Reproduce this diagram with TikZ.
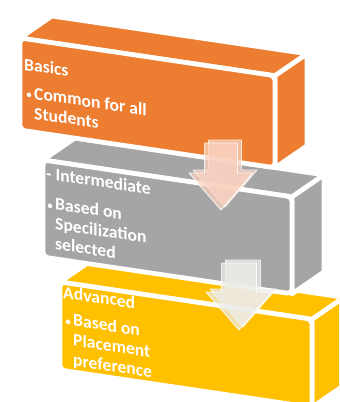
\documentclass[tikz,border=0pt]{standalone}
\usepackage{fontspec}
\setmainfont{Carlito}
\usetikzlibrary{calc}
\definecolor{blkorange}{RGB}{237,125,49}
\definecolor{blkgray}{RGB}{165,165,165}
\definecolor{blkyellow}{RGB}{255,192,0}
\definecolor{arrpeach}{RGB}{250,210,192}
\definecolor{arrpale}{RGB}{236,236,232}

\begin{document}
\begin{tikzpicture}[
    x=0.03cm, y=-0.03cm,
    face/.style={draw=white, line width=4pt, line join=round},
    front/.style={face, rounded corners=4pt},
    label/.style={anchor=base west, inner sep=0pt, text=white, transform shape,
        font=\fontsize{15}{17}\selectfont\bfseries},
    dot/.style={label, anchor=base east, font=\fontsize{11}{13}\selectfont},
    blockarrow/.style={draw=white, draw opacity=0.8, line width=0.8pt, fill opacity=0.75, line join=round}
]
\useasboundingbox (0,0) rectangle (339,402);
\clip (0,0) rectangle (339,402);

% Blocks, back to front
\foreach \col/\x/\y/\w/\h in {blkyellow/60/282/252/88, blkgray/43/160/249/97, blkorange/20/38/255/92}{
  \begin{scope}[shift={(\x,\y)}, yslant=-0.148]
    \path[face, fill=\col] (0,0) -- (\w,0) -- (\w+32,-26.7) -- (32,-26.7) -- cycle;
    \path[face, fill=\col] (\w,0) -- (\w,\h) -- (\w+32,\h-26.7) -- (\w+32,-26.7) -- cycle;
    \path[front, fill=\col] (0,0) rectangle (\w,\h);
  \end{scope}
}

% Texts
\begin{scope}[shift={(20,38)}, yslant=-0.148]
  \node[label] (basics) at (4,31.4) {Basics};
  \node[dot] (basicsdot) at (12.5,59.5) {\textbullet};
  \node[label] (basicsitem) at (14,59) {\begin{tabular}[t]{@{}l@{}}Common for all\\Students\end{tabular}};
\end{scope}
\begin{scope}[shift={(43,160)}, yslant=-0.148]
  \node[label] (inter) at (3,18.6) {- Intermediate};
  \node[dot] (interdot) at (10.5,48.5) {\textbullet};
  \node[label] (interitem) at (12,48) {\begin{tabular}[t]{@{}l@{}}Based on\\Specilization\\selected\end{tabular}};
\end{scope}
\begin{scope}[shift={(60,282)}, yslant=-0.148]
  \node[label] (adv) at (3,15.6) {Advanced};
  \node[dot] (advdot) at (11.5,42.5) {\textbullet};
  \node[label] (advitem) at (13,42) {\begin{tabular}[t]{@{}l@{}}Based on\\Placement\\preference\end{tabular}};
\end{scope}

% Down arrows between the blocks
\coordinate (arrAtop) at (221,143);
\coordinate (arrAtip) at (221,210);
\coordinate (arrBtop) at (239,263);
\coordinate (arrBtip) at (239,330);
\foreach \top/\tip/\col/\s/\hw/\hl in {arrAtop/arrAtip/arrpeach/16.5/32/37, arrBtop/arrBtip/arrpale/17.5/33/38}{
  \path[blockarrow, fill=\col, transform canvas={xshift=3.4pt, yshift=2.55pt}]
    ($(\top)+(-\s,0)$) -- ($(\top)+(\s,0)$) -- ($(\tip)+(\s,-\hl)$) -- ($(\tip)+(\hw,-\hl)$)
    -- (\tip) -- ($(\tip)+(-\hw,-\hl)$) -- ($(\tip)+(-\s,-\hl)$) -- cycle;
  \path[blockarrow, fill=\col]
    ($(\top)+(-\s,0)$) -- ($(\top)+(\s,0)$) -- ($(\tip)+(\s,-\hl)$) -- ($(\tip)+(\hw,-\hl)$)
    -- (\tip) -- ($(\tip)+(-\hw,-\hl)$) -- ($(\tip)+(-\s,-\hl)$) -- cycle;
}
\end{tikzpicture}
\end{document}
